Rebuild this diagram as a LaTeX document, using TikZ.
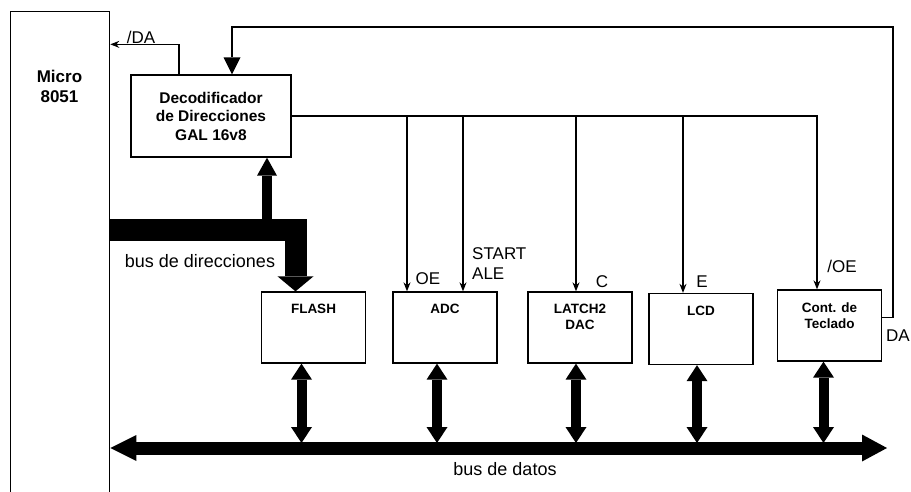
\documentclass[tikz,border=0pt]{standalone}
\usepackage{fontspec}
\setmainfont{Liberation Sans}
\usetikzlibrary{arrows.meta}

\tikzset{
  box/.style={draw, line width=1.3pt, minimum width=104pt, minimum height=71pt, inner sep=0pt},
  boxtxt/.style={font=\fontsize{13.5}{16}\selectfont\bfseries, align=center, inner sep=0pt, anchor=north},
  lbl/.style={font=\fontsize{17}{20}\selectfont, inner sep=0pt, anchor=base},
  sig/.style={line width=1.3pt, -{Stealth[length=9pt,width=7pt]}},
  dbus/.style={line width=#1, {Triangle[width=21pt,length=16pt,line width=0pt]}-{Triangle[width=21pt,length=16pt,line width=0pt]}},
}

\begin{document}
\begin{tikzpicture}[x=1pt,y=-1pt]
  \useasboundingbox (0,0) rectangle (911,491);
  \clip (0,0) rectangle (911,491);
  \node[draw, line width=1.3pt, anchor=north west, minimum width=99pt, minimum height=500pt] (micro) at (10,11) {};
  \node[font=\fontsize{17}{20}\selectfont\bfseries, align=center, inner sep=0pt, anchor=north] (microtxt) at (59.5,70) {Micro\\8051};
  \node[draw, line width=1.3pt, minimum width=160pt, minimum height=82pt, align=center,
    font=\fontsize{15.5}{18.5}\selectfont\bfseries] (deco) at (211,116) {Decodificador\\de Direcciones\\GAL 16v8};
  \foreach \n/\x/\y/\t in {flash/313.5/327.5/FLASH, adc/445/327.5/ADC, latch/580/327.5/{LATCH2\\DAC},
      lcd/701/329/LCD, tec/829.5/325.5/{Cont. de\\Teclado}}{
    \node[box] (\n) at (\x,\y) {};
    \node[boxtxt] (\n txt) at ([yshift=-13pt]\n.north) {\t};
  }
  % buses: addresses from the micro, data shared by all
  \coordinate (abus) at (109,230);
  \draw[line width=22pt, -{Triangle[width=36pt,length=15pt,line width=0pt]}] (abus) -| ([xshift=-18pt]flash.north);
  \draw[line width=10pt, -{Triangle[width=20pt,length=18pt,line width=0pt]}] (267,230) coordinate (abr) -- (abr |- deco.south);
  \coordinate (busR) at (887,448);
  \draw[line width=13pt, {Triangle[width=26pt,length=26pt,line width=0pt]}-{Triangle[width=27pt,length=25pt,line width=0pt]}]
    (micro.east |- busR) -- (busR);
  \foreach \n/\d in {flash/-12, adc/-8, latch/-4, lcd/-4, tec/-6}
    \draw[dbus=10pt, shorten >=5pt] ([xshift=\d pt]\n.south) coordinate (s) -- (s |- busR);
  \draw[sig] ([xshift=-32pt]deco.north) -- ++(0,-30) coordinate (dak) -- (dak -| micro.east);
  \coordinate (fb) at (893,27);
  \draw[line width=1.3pt, -{Triangle[width=17pt,length=17pt,line width=0pt]}] ([yshift=8pt]tec.east) -| (fb) -| ([xshift=21pt]deco.north);
  \draw[sig] (deco.east) -| ([xshift=-12.5pt]tec.north);
  \foreach \x/\n in {407/adc, 463/adc, 576/latch, 683/lcd}
    \draw[sig] (\x,116) coordinate (t) -- (t |- \n.north);
  \node[lbl] (dalbl) at (141,43) {/DA};
  \node[lbl] (oe) at (428,284) {OE};
  \node[lbl, align=left, anchor=north west] (start) at (472,247) {START\\ALE};
  \node[lbl] (c) at (602,287) {C};
  \node[lbl] (e) at (702,287) {E};
  \node[lbl] (noe) at (842,272) {/OE};
  \node[lbl] (da) at (898,341) {DA};
  \node[lbl, font=\fontsize{18}{22}\selectfont] (datlbl) at (505,475) {bus de datos};
  \node[lbl, font=\fontsize{18}{22}\selectfont] (dirlbl) at (200,267) {bus de direcciones};
\end{tikzpicture}
\end{document}
